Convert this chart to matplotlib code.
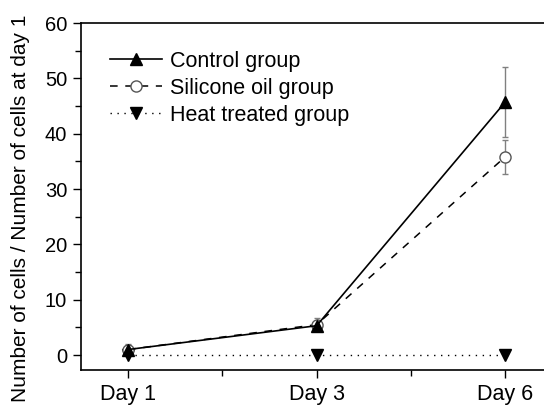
import matplotlib
matplotlib.use("Agg")
import matplotlib.pyplot as plt
from matplotlib.ticker import MultipleLocator, FixedLocator

plt.rcParams['font.family'] = ['Liberation Sans', 'DejaVu Sans']

days = ["Day 1", "Day 3", "Day 6"]
control = [1.0, 5.3, 45.7]
control_err = [1.0, 0.8, 6.3]
silicone = [1.0, 5.5, 35.8]
silicone_err = [0.8, 1.2, 3.0]
heat = [0.0, 0.0, 0.0]

W, H = 544, 413
fig = plt.figure(figsize=(W/100, H/100), dpi=100)
left, right, top, bottom = 81, 600, 23, 370
ax = fig.add_axes([left/W, 1-bottom/H, (right-left)/W, (bottom-top)/H])

x = list(range(len(days)))
ecol = '#808080'
ax.errorbar(x, control, yerr=control_err, fmt='none', ecolor=ecol, elinewidth=1, capsize=2.5, capthick=1, zorder=2)
ax.errorbar(x, silicone, yerr=silicone_err, fmt='none', ecolor=ecol, elinewidth=1, capsize=2.5, capthick=1, zorder=2)

ax.plot(x, heat, linestyle=(0, (1, 4)), color='black', lw=1, marker='v', ms=9,
        mfc='black', mec='black', label='Heat treated group', zorder=3)
ax.plot(x, silicone, linestyle=(0, (5, 5)), color='black', lw=1.1, marker='o', ms=8,
        mfc='white', mec='#555555', mew=1, label='Silicone oil group', zorder=4)
ax.plot(x, control, linestyle='-', color='black', lw=1.2, marker='^', ms=9,
        mfc='black', mec='black', label='Control group', zorder=5)

unit = 188.5
ax.set_xlim(-0.25, -0.25 + (right-left)/unit)
ax.set_ylim(-2.7, 60)
ax.set_xticks(x)
ax.set_xticklabels(days)
ax.xaxis.set_minor_locator(FixedLocator([0.5, 1.5]))
ax.yaxis.set_major_locator(MultipleLocator(10))
ax.yaxis.set_minor_locator(MultipleLocator(5))
ax.tick_params(axis='both', which='major', direction='out', length=6, width=1, pad=4)
ax.tick_params(axis='x', which='major', labelsize=15.5)
ax.tick_params(axis='y', which='major', labelsize=14.5)
ax.tick_params(axis='both', which='minor', direction='out', length=4, width=1)
for s in ax.spines.values():
    s.set_linewidth(1.2)

ylab = fig.text(21/W, 1-208/H, 'Number of cells / Number of cells at day 1', fontsize=15,
                rotation=90, ha='center', va='center')
# shrink label so it fits inside the figure height
fig.canvas.draw()
bb = ylab.get_window_extent()
if bb.height > 405:
    ylab.set_fontsize(15 * 405 / bb.height)

h, l = ax.get_legend_handles_labels()
order = [2, 1, 0]
leg = ax.legend([h[i] for i in order], [l[i] for i in order], loc='upper left',
          bbox_to_anchor=((110-left)/(right-left), (bottom-51)/(bottom-top)), frameon=False, fontsize=15.5,
          handlelength=2.4, handletextpad=0.4, labelspacing=0.27, borderaxespad=0, borderpad=0)

fig.savefig('out.png', dpi=100)
